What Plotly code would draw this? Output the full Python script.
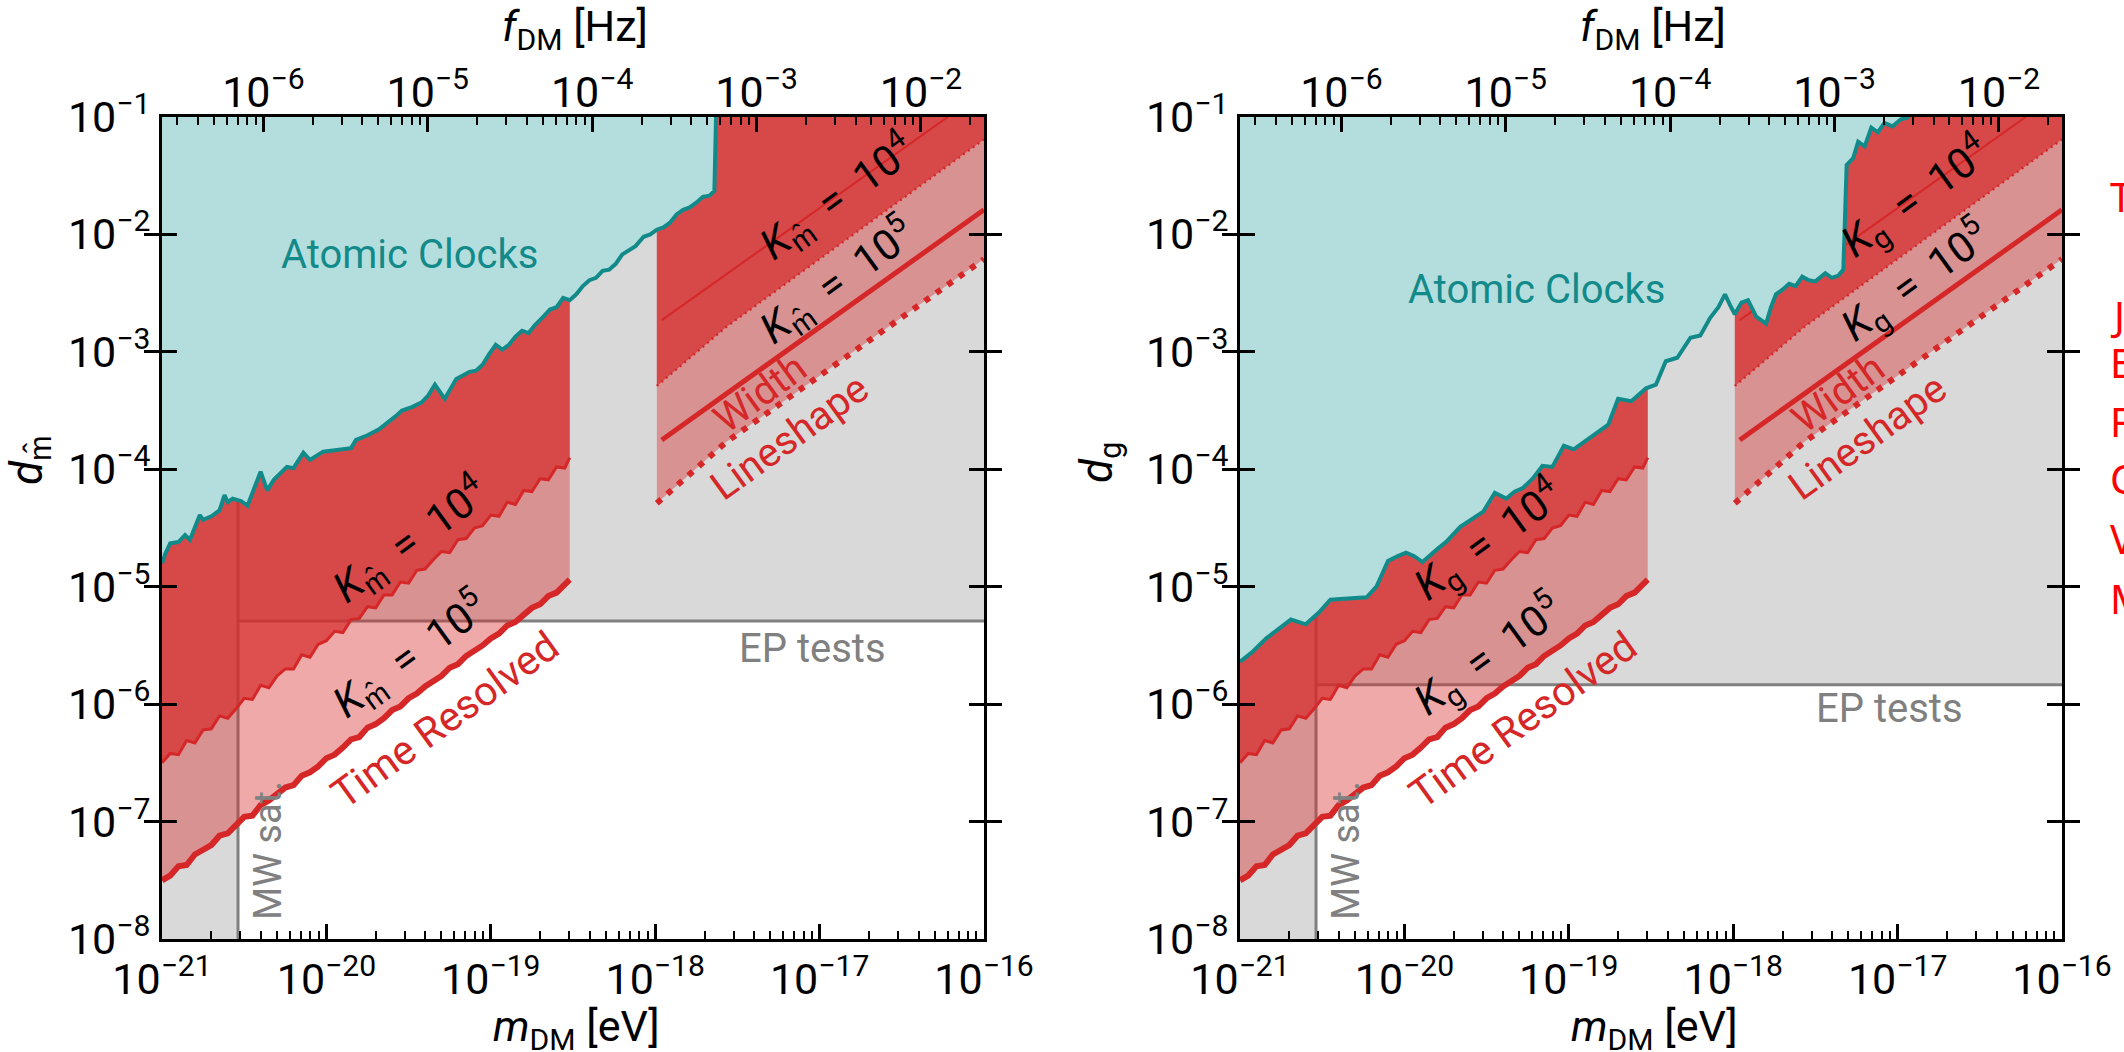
import numpy as np
import plotly.graph_objects as go

W, H = 2124, 1052
HZ_PER_EV = 2.418e14  # f = m / h

# ---------------- tick labels ----------------
m_ticks = [1e-21, 1e-20, 1e-19, 1e-18, 1e-17, 1e-16]
m_tick_text = ["10<sup>−21</sup>", "10<sup>−20</sup>", "10<sup>−19</sup>",
               "10<sup>−18</sup>", "10<sup>−17</sup>", "10<sup>−16</sup>"]
f_ticks = [1e-6, 1e-5, 1e-4, 1e-3, 1e-2]
f_tick_text = ["10<sup>−6</sup>", "10<sup>−5</sup>", "10<sup>−4</sup>",
               "10<sup>−3</sup>", "10<sup>−2</sup>"]
d_ticks = [1e-8, 1e-7, 1e-6, 1e-5, 1e-4, 1e-3, 1e-2, 1e-1]
d_tick_text = ["10<sup>−8</sup>", "10<sup>−7</sup>", "10<sup>−6</sup>", "10<sup>−5</sup>",
               "10<sup>−4</sup>", "10<sup>−3</sup>", "10<sup>−2</sup>", "10<sup>−1</sup>"]

X_MIN, X_MAX = 1e-21, 1e-16
Y_MIN, Y_MAX = 1e-8, 1e-1

# ---------------- data (log10 values) ----------------
# time-resolved sensitivity (same in both panels)
tr_logm = [-21.00, -20.95, -20.90, -20.85, -20.80, -20.75, -20.70, -20.65, -20.60, -20.55,
           -20.50, -20.45, -20.40, -20.35, -20.30, -20.25, -20.20, -20.15, -20.10, -20.05,
           -20.00, -19.95, -19.90, -19.85, -19.80, -19.75, -19.70, -19.65, -19.60, -19.55,
           -19.50, -19.45, -19.40, -19.35, -19.30, -19.25, -19.20, -19.15, -19.10, -19.05,
           -19.00, -18.95, -18.90, -18.85, -18.80, -18.75, -18.70, -18.65, -18.60, -18.55,
           -18.52]
tr_k4_logd = [-6.50, -6.42, -6.43, -6.31, -6.33, -6.22, -6.21, -6.10, -6.12, -6.04,
              -5.95, -5.96, -5.84, -5.86, -5.76, -5.70, -5.70, -5.58, -5.60, -5.49,
              -5.46, -5.38, -5.39, -5.28, -5.27, -5.17, -5.18, -5.07, -5.07, -4.96,
              -4.97, -4.86, -4.85, -4.77, -4.70, -4.71, -4.60, -4.59, -4.50, -4.48,
              -4.39, -4.40, -4.28, -4.30, -4.18, -4.19, -4.08, -4.09, -3.98, -3.99,
              -3.90]
tr_k5_logd = [-7.50, -7.46, -7.38, -7.37, -7.28, -7.24, -7.20, -7.12, -7.10, -7.03,
              -6.96, -6.95, -6.86, -6.82, -6.77, -6.71, -6.69, -6.61, -6.58, -6.53,
              -6.46, -6.43, -6.37, -6.30, -6.28, -6.20, -6.17, -6.12, -6.05, -6.02,
              -5.95, -5.91, -5.85, -5.80, -5.76, -5.69, -5.66, -5.59, -5.55, -5.50,
              -5.44, -5.40, -5.33, -5.30, -5.24, -5.18, -5.15, -5.08, -5.05, -4.99,
              -4.94]

# width / lineshape sensitivities (same in both panels)
w_logm = [-17.96, -16.00]
w_k4_logd = [-2.73, -0.78]
w_k5_logd = [-3.75, -1.79]
ls_logm = [-17.99, -17.57, -16.00]
ls_k4_logd = [-3.29, -2.79, -1.19]
ls_k5_logd = [-4.29, -3.77, -2.21]

# atomic clock bounds
ac_dm = [(-21.00, -4.80), (-20.98, -4.72), (-20.95, -4.63), (-20.90, -4.62), (-20.86, -4.56),
         (-20.83, -4.60), (-20.77, -4.39), (-20.75, -4.43), (-20.70, -4.40), (-20.65, -4.35),
         (-20.62, -4.22), (-20.60, -4.28), (-20.57, -4.25), (-20.52, -4.27), (-20.48, -4.31),
         (-20.40, -4.02), (-20.36, -4.18), (-20.32, -4.09), (-20.24, -3.98), (-20.20, -3.99),
         (-20.14, -3.86), (-20.10, -3.92), (-20.02, -3.85), (-19.92, -3.83), (-19.85, -3.82),
         (-19.82, -3.75), (-19.75, -3.71), (-19.68, -3.66), (-19.62, -3.60), (-19.58, -3.55),
         (-19.54, -3.50), (-19.48, -3.47), (-19.42, -3.43), (-19.38, -3.37), (-19.34, -3.28),
         (-19.28, -3.40), (-19.21, -3.23), (-19.17, -3.20), (-19.13, -3.17), (-19.09, -3.16),
         (-19.05, -3.11), (-19.01, -3.02), (-18.97, -2.94), (-18.93, -2.98), (-18.89, -2.94),
         (-18.85, -2.87), (-18.81, -2.82), (-18.77, -2.84), (-18.73, -2.77), (-18.68, -2.70),
         (-18.64, -2.64), (-18.60, -2.62), (-18.56, -2.54), (-18.52, -2.56), (-18.48, -2.51),
         (-18.44, -2.44), (-18.40, -2.39), (-18.36, -2.37), (-18.32, -2.31), (-18.28, -2.30),
         (-18.24, -2.25), (-18.20, -2.17), (-18.16, -2.13), (-18.12, -2.10), (-18.07, -2.02),
         (-18.03, -2.00), (-17.99, -1.96), (-17.95, -1.94), (-17.91, -1.90), (-17.87, -1.83),
         (-17.83, -1.79), (-17.79, -1.77), (-17.75, -1.73), (-17.71, -1.68), (-17.67, -1.67),
         (-17.64, -1.63), (-17.63, -1.00)]
ac_dg_logm = [-21.00, -20.92, -20.84, -20.76, -20.69, -20.60, -20.52, -20.45, -20.34, -20.23,
              -20.17, -20.10, -20.04, -19.99, -19.94, -19.89, -19.80, -19.74, -19.66, -19.58,
              -19.52, -19.45, -19.38, -19.33, -19.28, -19.22, -19.16, -19.10, -19.03, -18.97,
              -18.92, -18.87, -18.82, -18.76, -18.70, -18.62, -18.57, -18.53, -18.47, -18.41,
              -18.34, -18.30, -18.26, -18.20, -18.14, -18.09, -18.05, -18.02, -17.99, -17.95,
              -17.91, -17.86, -17.80, -17.77, -17.74, -17.70, -17.66, -17.62, -17.58, -17.54,
              -17.50, -17.44, -17.40, -17.36, -17.33, -17.31, -17.27, -17.24, -17.20, -17.16,
              -17.12, -17.08, -17.03, -16.98, -16.93]
ac_dg_logd = [-5.64, -5.55, -5.44, -5.36, -5.28, -5.32, -5.22, -5.11, -5.10, -5.09,
              -5.00, -4.78, -4.74, -4.71, -4.74, -4.79, -4.68, -4.61, -4.49, -4.41,
              -4.36, -4.20, -4.25, -4.19, -4.16, -4.08, -3.97, -3.98, -3.80, -3.83,
              -3.78, -3.72, -3.68, -3.62, -3.40, -3.42, -3.36, -3.31, -3.28, -3.08,
              -3.05, -2.96, -2.88, -2.86, -2.71, -2.62, -2.51, -2.60, -2.68, -2.58,
              -2.56, -2.70, -2.76, -2.62, -2.51, -2.47, -2.42, -2.44, -2.36, -2.39,
              -2.40, -2.33, -2.37, -2.35, -2.30, -1.41, -1.35, -1.21, -1.25, -1.09,
              -1.13, -1.05, -1.08, -1.02, -1.00]

ep_dm = 5.1e-6
ep_dg = 1.46e-6
mw_sat_m = 2.9e-21

# ---------------- styles ----------------
GRAY_FILL = "#d9d9d9"
GRAY_LINE = "#808080"
RED = "#d62728"
PINK = "rgba(214,39,40,0.40)"
DARK = "rgba(214,39,40,0.69)"
TEAL_FILL = "#b3dedd"
TEAL_LINE = "#138a8a"
FONT = "Roboto, Liberation Sans, sans-serif"

fig = go.Figure()


def p10(v):
    return [10.0 ** a for a in v]


def add(xa, ya, **kw):
    fig.add_trace(go.Scatter(xaxis=xa, yaxis=ya, showlegend=False, hoverinfo="skip", **kw))


def fill_above(xa, ya, lm, ld, color):
    x = p10(lm)
    y = p10(ld)
    add(xa, ya, x=x + [x[-1], x[0]], y=y + [Y_MAX, Y_MAX], fill="toself",
        fillcolor=color, mode="none")


def panel(xa, ya, ac_lm, ac_ld, ep):
    # grey excluded regions (MW satellites + EP tests)
    add(xa, ya, x=[X_MIN, mw_sat_m, mw_sat_m, X_MAX, X_MAX, X_MIN],
        y=[Y_MIN, Y_MIN, ep, ep, Y_MAX, Y_MAX], fill="toself", fillcolor=GRAY_FILL, mode="none")
    add(xa, ya, x=[mw_sat_m, mw_sat_m], y=[Y_MIN, Y_MAX], mode="lines",
        line=dict(color=GRAY_LINE, width=3))
    add(xa, ya, x=[mw_sat_m, X_MAX], y=[ep, ep], mode="lines",
        line=dict(color=GRAY_LINE, width=3))
    # red projected sensitivities
    fill_above(xa, ya, tr_logm, tr_k5_logd, PINK)
    fill_above(xa, ya, ls_logm, ls_k5_logd, PINK)
    fill_above(xa, ya, tr_logm, tr_k4_logd, DARK)
    fill_above(xa, ya, ls_logm, ls_k4_logd, DARK)
    add(xa, ya, x=p10(tr_logm), y=p10(tr_k4_logd), mode="lines", line=dict(color=RED, width=3))
    add(xa, ya, x=p10(tr_logm), y=p10(tr_k5_logd), mode="lines", line=dict(color=RED, width=6))
    add(xa, ya, x=p10(w_logm), y=p10(w_k4_logd), mode="lines", line=dict(color=RED, width=2))
    add(xa, ya, x=p10(ls_logm), y=p10(ls_k4_logd), mode="lines",
        line=dict(color=RED, width=2.5, dash="2px,4px"))
    add(xa, ya, x=p10(w_logm), y=p10(w_k5_logd), mode="lines", line=dict(color=RED, width=5))
    add(xa, ya, x=p10(ls_logm), y=p10(ls_k5_logd), mode="lines",
        line=dict(color=RED, width=6, dash="6px,8px"))
    # atomic clocks
    x = p10(ac_lm)
    y = p10(ac_ld)
    add(xa, ya, x=x + [X_MIN], y=y + [Y_MAX], fill="toself", fillcolor=TEAL_FILL, mode="none")
    add(xa, ya, x=x, y=y, mode="lines", line=dict(color=TEAL_LINE, width=4))


panel("x", "y", [a for a, b in ac_dm], [b for a, b in ac_dm], ep_dm)
panel("x2", "y2", ac_dg_logm, ac_dg_logd, ep_dg)
# register the top (frequency) axes
add("x3", "y", x=[], y=[], mode="markers")
add("x4", "y2", x=[], y=[], mode="markers")

# ---------------- axes ----------------
TICKFONT = dict(family=FONT, size=43, color="black")
minor_m = [k * 10.0 ** e for e in range(-21, -16) for k in range(2, 10)]
minor_f = [k * 10.0 ** e for e in range(-7, -1) for k in range(2, 10)]

L0, L1 = 162 / W, 984 / W
R0, R1 = 1240 / W, 2062 / W
Y0, Y1 = (H - 939) / H, (H - 117) / H


def xax(domain, anchor):
    return dict(type="log", range=[-21, -16], domain=domain, anchor=anchor, automargin=False,
                showline=True, linecolor="black", linewidth=3, mirror=True,
                ticks="inside", ticklen=15, tickwidth=2.5, tickcolor="black",
                tickmode="array", tickvals=m_ticks, ticktext=m_tick_text, tickfont=TICKFONT,
                minor=dict(ticks="inside", ticklen=8, tickwidth=2, tickcolor="black",
                           tickmode="array", tickvals=minor_m, showgrid=False),
                showgrid=False, zeroline=False, fixedrange=True)


def topax(overlay, anchor):
    return dict(type="log", overlaying=overlay, anchor=anchor, side="top", automargin=False,
                range=[np.log10(X_MIN * HZ_PER_EV), np.log10(X_MAX * HZ_PER_EV)],
                showline=False, ticks="inside", ticklen=15, tickwidth=2.5, tickcolor="black",
                tickmode="array", tickvals=f_ticks, ticktext=f_tick_text, tickfont=TICKFONT,
                minor=dict(ticks="inside", ticklen=8, tickwidth=2, tickcolor="black",
                           tickmode="array", tickvals=minor_f, showgrid=False),
                showgrid=False, zeroline=False, fixedrange=True)


def yax(anchor):
    return dict(type="log", range=[-8, -1], domain=[Y0, Y1], anchor=anchor, automargin=False,
                showline=True, linecolor="black", linewidth=3, mirror="allticks",
                ticks="inside", ticklen=15, tickwidth=2.5, tickcolor="black",
                tickmode="array", tickvals=d_ticks, ticktext=d_tick_text, tickfont=TICKFONT,
                showgrid=False, zeroline=False, fixedrange=True)


# ---------------- annotations ----------------
def px(x):
    return x / W


def py(y):
    return 1 - y / H


ann = []


def label(text, x, y, color, size=40, angle=0, font=FONT, xanchor="center"):
    ann.append(dict(text=text, x=px(x), y=py(y), xref="paper", yref="paper", showarrow=False,
                    textangle=angle, xanchor=xanchor, yanchor="middle",
                    font=dict(family=font, size=size, color=color)))


ANG = -36
for (xo, sub) in [(0, "m̂"), (1078, "g")]:
    K = "<i>K</i><sub>" + sub + "</sub>"
    label("Atomic Clocks", 409 + (1536 - 409) * (xo > 0), 254 + 35 * (xo > 0), TEAL_LINE, 40)
    label(K + "  =  10<sup>4</sup>", 837 + xo, 197, "black", 42, ANG)
    label(K + "  =  10<sup>5</sup>", 837 + xo, 281, "black", 42, ANG)
    label("Width", 760 + xo, 394, RED, 40, ANG)
    label("Lineshape", 789 + xo, 437, RED, 40, ANG)
    label(K + "  =  10<sup>4</sup>", 410 + xo, 540, "black", 42, ANG)
    label(K + "  =  10<sup>5</sup>", 410 + xo, 655, "black", 42, ANG)
    label("Time Resolved", 445 + xo, 720, RED, 41, ANG)
    label("MW sat.", 268 + xo, 851, GRAY_LINE, 38, -90)
    label("<i>m</i><sub>DM</sub> [eV]", 576 + xo, 1029, "black", 43)
    label("<i>f</i><sub>DM</sub> [Hz]", 575 + xo, 29, "black", 43)
label("EP tests", 812, 648, GRAY_LINE, 40)
label("EP tests", 1889, 708, GRAY_LINE, 40)
label("<i>d</i><sub>m̂</sub>", 30, 460, "black", 44, -90)
label("<i>d</i><sub>g</sub>", 1100, 463, "black", 44, -90)

# red text cut off by the right edge
edge_letters = ["T", "J", "E", "F", "C", "V", "M"]
edge_y = [196, 315, 362, 421, 478, 538, 598]
for t, yy in zip(edge_letters, edge_y):
    label(t, 2108, yy, "#ff0000", 40, 0, "Noto Sans, Open Sans, sans-serif", "left")

fig.update_layout(
    width=W, height=H, margin=dict(l=0, r=0, t=0, b=0, autoexpand=False),
    paper_bgcolor="white", plot_bgcolor="white", showlegend=False,
    xaxis=xax([L0, L1], "y"), yaxis=yax("x"),
    xaxis2=xax([R0, R1], "y2"), yaxis2=yax("x2"),
    xaxis3=topax("x", "y"), xaxis4=topax("x2", "y2"),
    annotations=ann,
)

fig.write_html("out.html", config={"displayModeBar": False},
               post_script="document.body.style.margin='0px';"
                           "document.body.style.overflow='hidden';")
